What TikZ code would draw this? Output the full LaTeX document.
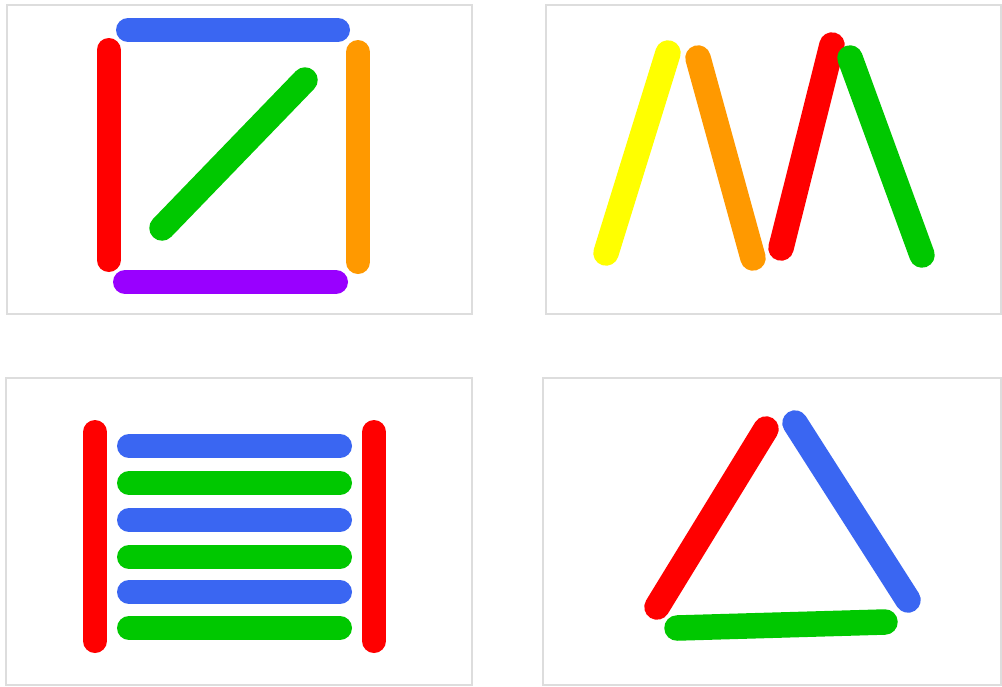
\documentclass[tikz,border=0pt]{standalone}
\definecolor{sblue}{HTML}{3A66F2}
\definecolor{sred}{HTML}{FF0000}
\definecolor{sorange}{HTML}{FF9900}
\definecolor{spurple}{HTML}{9900FF}
\definecolor{sgreen}{HTML}{00C800}
\definecolor{syellow}{HTML}{FFFF00}
\definecolor{frame}{HTML}{DDDDDD}
\begin{document}
\begin{tikzpicture}[x=1pt,y=-1pt,
  stick/.style={line width=24pt,line cap=round},
  tilted/.style={stick,line width=25.5pt},
  panel/.style={draw=frame,line width=1.2pt,fill=white}]
\useasboundingbox[fill=white] (0,0) rectangle (1002,686);
% panels
\draw[panel] (7,5) rectangle (472,314);
\draw[panel] (546,5) rectangle (1001,314);
\draw[panel] (6,378) rectangle (472,685);
\draw[panel] (543,378) rectangle (1001,685);
% panel 1: square with diagonal
\draw[stick,sblue] (128,30) -- (338,30);
\draw[stick,sred] (108.5,50) -- (108.5,260);
\draw[stick,sorange] (358,52) -- (358,262);
\draw[stick,spurple] (125,282) -- (336,282);
\draw[tilted,sgreen] (162,228) -- (305,80);
% panel 2: zigzag
\draw[tilted,syellow] (606,253) -- (668,53);
\draw[tilted,sorange] (698,58) -- (753,258);
\draw[tilted,sred] (781,248) -- (832,45);
\draw[tilted,sgreen] (850,58) -- (922,255);
% panel 3: ladder
\draw[stick,sred] (95,432) -- (95,641);
\draw[stick,sred] (374,432) -- (374,641);
\draw[stick,sblue] (129,446) -- (340,446);
\draw[stick,sgreen] (129,483) -- (340,483);
\draw[stick,sblue] (129,520) -- (340,520);
\draw[stick,sgreen] (129,557) -- (340,557);
\draw[stick,sblue] (129,592) -- (340,592);
\draw[stick,sgreen] (129,628) -- (340,628);
% panel 4: triangle
\draw[tilted,sred] (657,607) -- (766,429);
\draw[tilted,sblue] (795,423) -- (908,600);
\draw[tilted,sgreen] (677,628) -- (885,622);
\end{tikzpicture}
\end{document}
